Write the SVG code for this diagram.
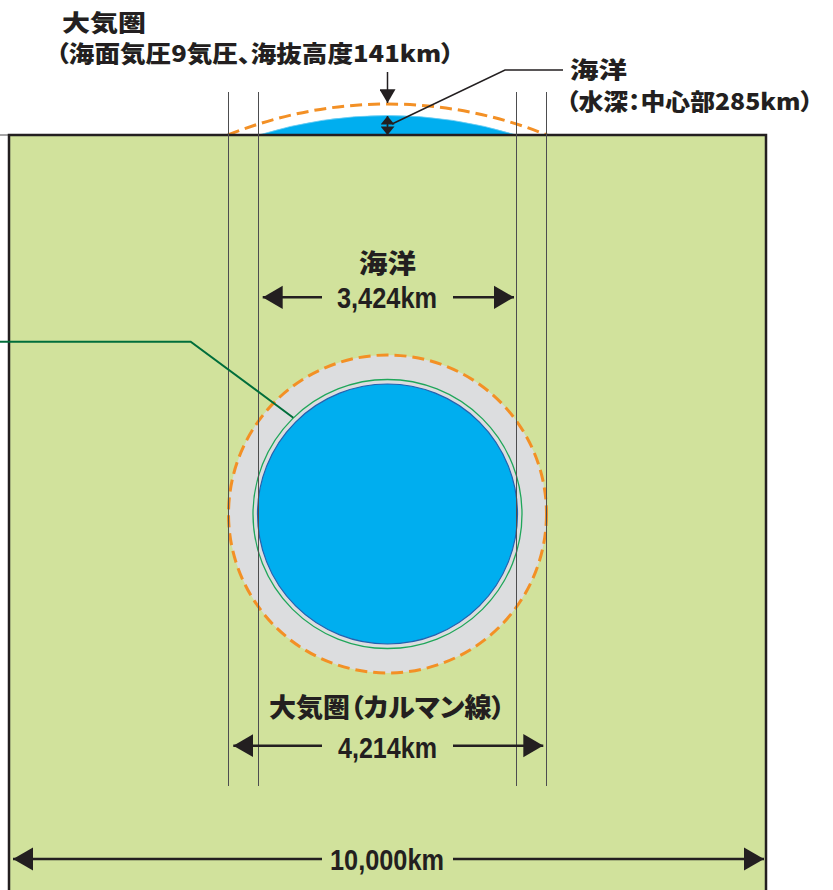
<svg xmlns="http://www.w3.org/2000/svg" width="833" height="890" viewBox="0 0 833 890">
<defs>
<style>
.jp{font-family:"Noto Sans CJK JP","Noto Sans",sans-serif;font-weight:900;fill:#231f20;font-feature-settings:"palt";}
.num{font-family:"Liberation Sans Narrow","Liberation Sans",sans-serif;font-weight:bold;fill:#231f20;}
.vl{stroke:#4d4d4f;stroke-width:1;fill:none;}
.dim{stroke:#231f20;stroke-width:2.5;fill:none;marker-end:url(#ah);}
.dash{stroke:#f39025;stroke-width:3;stroke-dasharray:12 6;fill:none;}
</style>
<marker id="ah" markerUnits="userSpaceOnUse" markerWidth="20" markerHeight="24" viewBox="0 -11 19 22" refX="19" refY="0" orient="auto">
<path d="M0,-11 L19,0 L0,11 Z" fill="#231f20"/>
</marker>
<marker id="ahs" markerUnits="userSpaceOnUse" markerWidth="14" markerHeight="16" viewBox="0 -7 12 14" refX="12" refY="0" orient="auto">
<path d="M0,-7 L12,0 L0,7 Z" fill="#231f20"/>
</marker>
<marker id="aht" markerUnits="userSpaceOnUse" markerWidth="10" markerHeight="14" viewBox="0 -6.5 8 13" refX="8" refY="0" orient="auto">
<path d="M0,-6.5 L8,0 L0,6.5 Z" fill="#231f20"/>
</marker>
</defs>
<rect width="833" height="890" fill="#ffffff"/>

<g id="atmosphere-cap">
<path class="dash" d="M228,135 A426,426 0 0 1 547,135"/>
</g>
<g id="ocean-cap">
<path d="M258.7,135 A435,435 0 0 1 516.3,135 Z" fill="#00aeef" stroke="#6fcdf3" stroke-width="0.8"/>
</g>

<g id="ground">
<line x1="0" y1="135" x2="10" y2="135" stroke="#4d4d4f" stroke-width="1"/>
<rect x="9" y="135" width="757" height="800" fill="#d1e29c" stroke="#231f20" stroke-width="2.5"/>
</g>

<g id="planet">
<circle cx="387.5" cy="514" r="159" fill="#dcdddf"/>
<circle class="dash" cx="387.5" cy="514" r="159"/>
<circle cx="387.5" cy="514" r="134.5" fill="none" stroke="#1fa65a" stroke-width="1.3"/>
<circle cx="387.5" cy="514" r="130" fill="#00aeef" stroke="#2560ad" stroke-width="1.2"/>
</g>

<g id="guides">
<line class="vl" x1="228.5" y1="92" x2="228.5" y2="786"/>
<line class="vl" x1="258.5" y1="92" x2="258.5" y2="786"/>
<line class="vl" x1="516.5" y1="92" x2="516.5" y2="786"/>
<line class="vl" x1="546.5" y1="92" x2="546.5" y2="786"/>
</g>

<g id="connectors">
<polyline points="0,341.7 190.7,341.7 293.3,417.7" fill="none" stroke="#006e3b" stroke-width="2"/>
<polyline points="563,70 505,70 392,124" fill="none" stroke="#231f20" stroke-width="1.5"/>
<line x1="387.5" y1="72" x2="387.5" y2="103" stroke="#231f20" stroke-width="1.5" marker-end="url(#ahs)"/>
<line x1="387.5" y1="126" x2="387.5" y2="116" stroke="#231f20" stroke-width="1.5" marker-end="url(#aht)"/>
<line x1="387.5" y1="125" x2="387.5" y2="135" stroke="#231f20" stroke-width="1.5" marker-end="url(#aht)"/>
<line class="dim" x1="322" y1="297.3" x2="262.7" y2="297.3"/>
<line class="dim" x1="453" y1="297.3" x2="514" y2="297.3"/>
<line class="dim" x1="322" y1="745.7" x2="233.3" y2="745.7"/>
<line class="dim" x1="453" y1="745.7" x2="543.3" y2="745.7"/>
<line class="dim" x1="322" y1="859" x2="13" y2="859"/>
<line class="dim" x1="453" y1="859" x2="764" y2="859"/>
</g>

<g id="label-atmosphere-top">
<text class="jp" x="62" y="31" font-size="23" textLength="84" lengthAdjust="spacingAndGlyphs">大気圏</text>
<text class="jp" x="56" y="62" font-size="23" textLength="398" lengthAdjust="spacingAndGlyphs">（海面気圧9気圧、海抜高度141km）</text>
</g>
<g id="label-ocean-top">
<text class="jp" x="570" y="77.5" font-size="23" textLength="57" lengthAdjust="spacingAndGlyphs">海洋</text>
<text class="jp" x="566" y="109.5" font-size="23" textLength="247" lengthAdjust="spacingAndGlyphs">（水深：中心部285km）</text>
</g>
<g id="label-ocean-width">
<text class="jp" x="359" y="273" font-size="26" textLength="57" lengthAdjust="spacingAndGlyphs">海洋</text>
<text class="num" x="337" y="308.3" font-size="30" textLength="100" lengthAdjust="spacingAndGlyphs">3,424km</text>
</g>
<g id="label-karman">
<text class="jp" x="269" y="717" font-size="26" textLength="236" lengthAdjust="spacingAndGlyphs">大気圏（カルマン線）</text>
<text class="num" x="338" y="758" font-size="30" textLength="99" lengthAdjust="spacingAndGlyphs">4,214km</text>
</g>
<g id="label-total">
<text class="num" x="330" y="870" font-size="30" textLength="114" lengthAdjust="spacingAndGlyphs">10,000km</text>
</g>
</svg>
